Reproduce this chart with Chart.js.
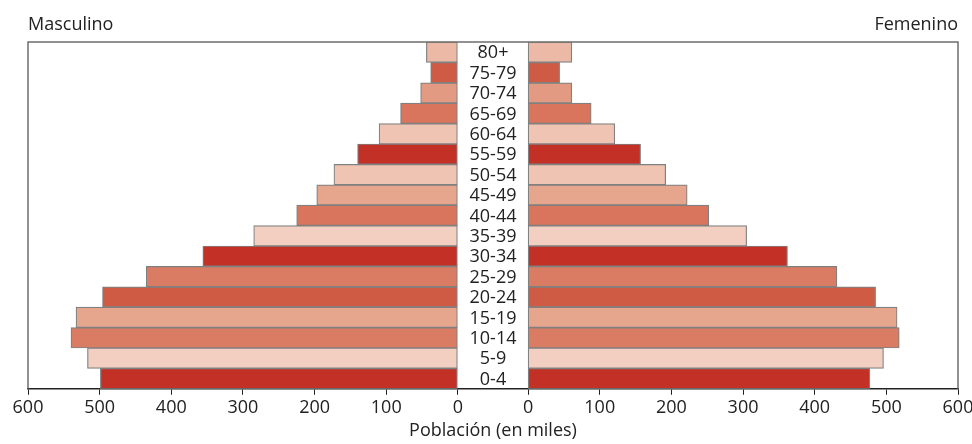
<!DOCTYPE html>
<html lang="es">
<head>
    <meta charset="UTF-8">
    <title>Pirámide de población</title>
    <script src="https://cdn.jsdelivr.net/npm/chart.js"></script>
    <style>
        body { margin: 0; background: #fff; }
        #wrap { position: relative; width: 972px; height: 444px; font-family: "Open Sans", sans-serif; color: #222; }
        .side { position: absolute; top: 14px; font-size: 18px; line-height: 18px; }
        #masc { left: 28px; }
        #fem { right: 14px; }
        canvas { position: absolute; left: 0; top: 0; }
    </style>
</head>
<body>
<div id="wrap">
    <canvas id="pyramid" width="972" height="444"></canvas>
    <div class="side" id="masc">Masculino</div>
    <div class="side" id="fem">Femenino</div>
</div>

<script>
    // age groups, youngest first (drawn bottom to top)
    const ageGroups = ['0-4', '5-9', '10-14', '15-19', '20-24', '25-29', '30-34', '35-39', '40-44',
        '45-49', '50-54', '55-59', '60-64', '65-69', '70-74', '75-79', '80+'];
    const masculino = [499, 517, 540, 533, 496, 435, 356, 285, 225, 197, 173, 140, 110, 80, 52, 38, 44];
    const femenino = [477, 496, 518, 515, 485, 431, 362, 305, 252, 222, 192, 157, 121, 88, 61, 44, 61];
    const axisTicks = [0, 100, 200, 300, 400, 500, 600];

    const barColors = ['#c33126', '#f2cfc0', '#d97c63', '#e6a58d', '#cf5b45', '#d97c63', '#c33126',
        '#f2cfc0', '#d8755c', '#e6a58d', '#f0c4b2', '#c33126', '#f0c4b2', '#d8755c', '#e39a82',
        '#cf5b45', '#ebb9a5'];

    // width of the centre strip holding the age labels, in axis units
    const GAP = 98;
    const MAX = 600;

    const frame = {
        id: 'frame',
        afterDraw(chart) {
            const {ctx, chartArea: a, scales} = chart;
            ctx.save();
            ctx.strokeStyle = '#6e6e6e';
            ctx.lineWidth = 1.5;
            ctx.beginPath();
            ctx.moveTo(a.left, a.bottom);
            ctx.lineTo(a.left, a.top);
            ctx.lineTo(a.right, a.top);
            ctx.lineTo(a.right, a.bottom);
            ctx.stroke();

            // age labels in the middle strip
            ctx.fillStyle = '#222';
            ctx.font = '18px "Open Sans"';
            ctx.textAlign = 'center';
            ctx.textBaseline = 'middle';
            const cx = scales.x.getPixelForValue(GAP / 2);
            ageGroups.forEach((g, i) => {
                ctx.fillText(g, cx, scales.y.getPixelForTick(i) + 1);
            });
            ctx.restore();
        }
    };

    const ctx = document.getElementById('pyramid').getContext('2d');

    new Chart(ctx, {
        type: 'bar',
        data: {
            labels: ageGroups,
            datasets: [{
                label: 'Masculino',
                data: masculino.map(v => [-v, 0]),
                backgroundColor: barColors,
                borderColor: '#808080',
                borderWidth: 1.2,
                borderSkipped: false
            }, {
                label: 'Femenino',
                data: femenino.map(v => [GAP, GAP + v]),
                backgroundColor: barColors,
                borderColor: '#808080',
                borderWidth: 1.2,
                borderSkipped: false
            }]
        },
        options: {
            indexAxis: 'y',
            responsive: false,
            animation: false,
            grouped: false,
            barPercentage: 1,
            categoryPercentage: 1,
            layout: {
                padding: {left: 28, right: 14, top: 42, bottom: 1}
            },
            plugins: {
                legend: {display: false},
                tooltip: {enabled: false}
            },
            scales: {
                y: {
                    display: false,
                    reverse: true
                },
                x: {
                    type: 'linear',
                    min: -MAX,
                    max: MAX + GAP,
                    afterBuildTicks(scale) {
                        const left = axisTicks.slice().reverse().map(v => ({value: -v}));
                        const right = axisTicks.map(v => ({value: GAP + v}));
                        scale.ticks = left.concat(right);
                    },
                    afterFit(scale) {
                        // let the end labels hang into the page margin
                        scale.paddingLeft = 10;
                        scale.paddingRight = 10;
                    },
                    ticks: {
                        color: '#222',
                        padding: 2,
                        maxRotation: 0,
                        autoSkip: false,
                        font: {family: 'Open Sans', size: 18},
                        callback: v => (v <= 0 ? -v : v - GAP)
                    },
                    grid: {
                        drawOnChartArea: false,
                        tickLength: 6,
                        color: '#222'
                    },
                    border: {color: '#222', width: 1.5},
                    title: {
                        display: true,
                        text: 'Población (en miles)',
                        color: '#222',
                        font: {family: 'Open Sans', size: 18},
                        padding: {top: 0, bottom: 1}
                    }
                }
            }
        },
        plugins: [frame]
    });
</script>
</body>
</html>
